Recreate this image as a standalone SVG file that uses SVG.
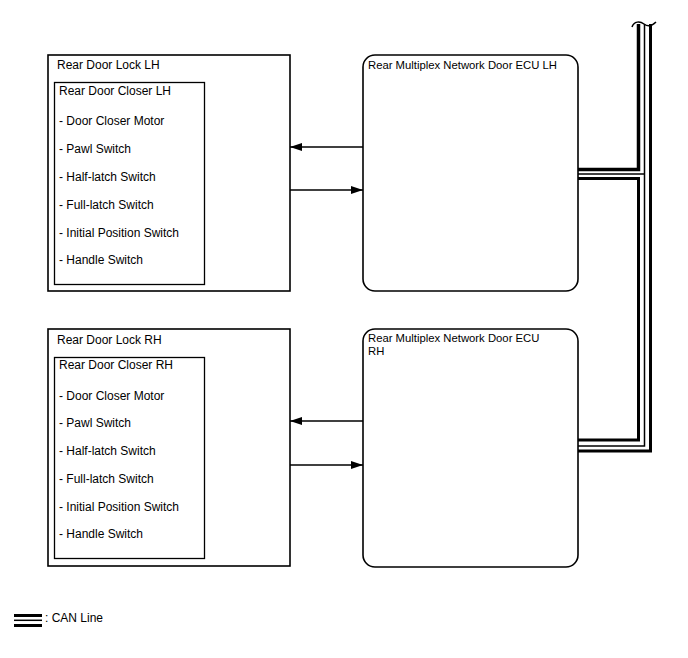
<svg xmlns="http://www.w3.org/2000/svg" width="688" height="658" viewBox="0 0 688 658">
<style>
text{font-family:"Liberation Sans",Arial,sans-serif;font-size:12px;fill:#000}
text.e{font-size:11.3px}
.box{fill:#fff;stroke:#000;stroke-width:1.3}
.outer{fill:#fff;stroke:#000;stroke-width:1.6}
.ecu{fill:#fff;stroke:#000;stroke-width:1.6}
.arr{stroke:#000;stroke-width:1.3;fill:none;marker-end:url(#ah)}
.bt{stroke:#000;fill:none;stroke-width:3.5}
.bm{stroke:#000;fill:none;stroke-width:1.5}
.bb{stroke:#000;fill:none;stroke-width:3}
</style>
<defs>
<marker id="ah" viewBox="0 0 12 8" refX="12" refY="4" markerWidth="12" markerHeight="8" markerUnits="userSpaceOnUse" orient="auto">
<path d="M0,0 L12,4 L0,8 Z" fill="#000"/>
</marker>
</defs>
<rect width="688" height="658" fill="#fff"/>

<g id="lock-lh">
<rect class="outer" x="48" y="55" width="242" height="236"/>
<text x="57" y="69">Rear Door Lock LH</text>
</g>
<g id="closer-lh">
<rect class="box" x="54.5" y="82.5" width="150" height="202"/>
<text x="59" y="95">Rear Door Closer LH</text>
<text x="59" y="125">- Door Closer Motor</text>
<text x="59" y="153">- Pawl Switch</text>
<text x="59" y="181">- Half-latch Switch</text>
<text x="59" y="209">- Full-latch Switch</text>
<text x="59" y="237">- Initial Position Switch</text>
<text x="59" y="264">- Handle Switch</text>
</g>
<g id="ecu-lh">
<rect class="ecu" x="363" y="55" width="215" height="236" rx="12" ry="12"/>
<text class="e" x="368" y="69">Rear Multiplex Network Door ECU LH</text>
</g>

<g id="lock-rh">
<rect class="outer" x="48" y="329" width="242" height="237"/>
<text x="57" y="344">Rear Door Lock RH</text>
</g>
<g id="closer-rh">
<rect class="box" x="54.5" y="357.5" width="150" height="201"/>
<text x="59" y="369">Rear Door Closer RH</text>
<text x="59" y="400">- Door Closer Motor</text>
<text x="59" y="427">- Pawl Switch</text>
<text x="59" y="455">- Half-latch Switch</text>
<text x="59" y="483">- Full-latch Switch</text>
<text x="59" y="511">- Initial Position Switch</text>
<text x="59" y="538">- Handle Switch</text>
</g>
<g id="ecu-rh">
<rect class="ecu" x="363" y="329" width="215" height="238" rx="12" ry="12"/>
<text class="e" x="368" y="342">Rear Multiplex Network Door ECU</text>
<text class="e" x="368" y="355">RH</text>
</g>

<g id="connectors">
<line class="arr" x1="363" y1="147" x2="290" y2="147"/>
<line class="arr" x1="290" y1="190" x2="363" y2="190"/>
<line class="arr" x1="363" y1="421" x2="290" y2="421"/>
<line class="arr" x1="290" y1="465" x2="363" y2="465"/>

<!-- CAN bus -->
<path class="bt" d="M638.5,24 V169.5 H578"/>
<path class="bb" d="M578,178.5 H638.5 V440 H578"/>
<path class="bm" d="M644.5,24 V446 H578"/>
<line class="bm" x1="578" y1="174" x2="644.5" y2="174"/>
<path class="bb" d="M650.5,24 V451 H578"/>
<path d="M632,27 C634,21 640,21 644,24 C648,27 652,26 656,22" fill="none" stroke="#000" stroke-width="1.5"/>
</g>

<g id="legend">
<line x1="14" y1="615.5" x2="42" y2="615.5" stroke="#000" stroke-width="3"/>
<line x1="14" y1="620.3" x2="42" y2="620.3" stroke="#000" stroke-width="1.5"/>
<line x1="14" y1="625.5" x2="42" y2="625.5" stroke="#000" stroke-width="3"/>
<text x="45" y="622">: CAN Line</text>
</g>
</svg>
